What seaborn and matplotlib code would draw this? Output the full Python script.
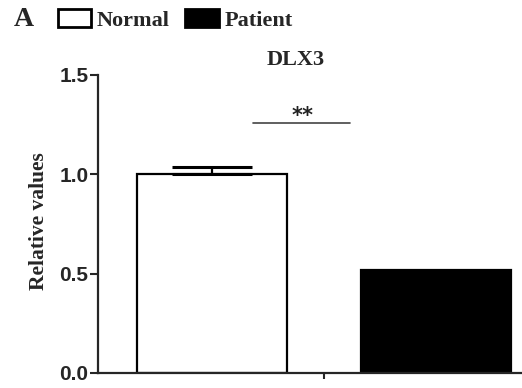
import pandas as pd
import matplotlib
matplotlib.use("Agg")
import matplotlib.pyplot as plt
from matplotlib.patches import Patch
import seaborn as sns

# values
groups = ["Normal", "Patient"]
values = [1.00, 0.52]
errors = [0.037, 0.0]
bar_colors = ["white", "black"]
yticks = [0.0, 0.5, 1.0, 1.5]
gene = "DLX3"
sig_label = "**"

df = pd.DataFrame({"group": groups, "value": values})

sns.set_style("ticks")
plt.rcParams["font.family"] = ["Liberation Serif", "DejaVu Serif"]

fig = plt.figure(figsize=(5.22, 3.88), dpi=100)
ax = fig.add_axes([98 / 522, 15 / 388, 424 / 522, 298 / 388])

sns.barplot(data=df, x="group", y="value", hue="group", palette=bar_colors,
            edgecolor="black", linewidth=1.6, width=0.67, legend=False, ax=ax)

# error bar only upward (the lower half is hidden in the bar)
ax.errorbar(x=[0], y=[values[0]], yerr=[[0], [errors[0]]], fmt="none",
            ecolor="black", elinewidth=1.6, capsize=28.5, capthick=2.2)

ax.set_ylim(0, 1.5)
ax.set_xlim(-0.51, 1.385)
ax.set_yticks(yticks)
ax.set_yticklabels([f"{t:.1f}" for t in yticks],
                   fontfamily="Liberation Sans", fontweight="bold", fontsize=15)
ax.set_xticks([0.5])
ax.set_xticklabels([""])
ax.tick_params(axis="y", length=6, width=1.5, pad=1)
ax.tick_params(axis="x", length=4, width=1.5)
ax.set_xlabel("")
ax.set_ylabel("Relative values", fontsize=15.5, fontweight="bold")
ax.yaxis.set_label_coords(-0.115, 0.51)

sns.despine(ax=ax)
for s in ["left", "bottom"]:
    ax.spines[s].set_linewidth(1.6)

# title and significance mark
ax.text(0.375, 1.575, gene, ha="center", va="center", fontsize=16,
        fontweight="bold", clip_on=False)
ax.plot([0.183, 0.616], [1.258, 1.258], color="#444444", lw=1.2)
ax.text(0.405, 1.295, sig_label, ha="center", va="center", fontsize=15,
        fontfamily="DejaVu Sans", fontweight="bold", color="#222222")

# panel letter and legend
fig.text(24 / 522, 1 - 19 / 388, "A", ha="center", va="center",
         fontsize=20, fontweight="bold")
handles = [Patch(facecolor=c, edgecolor="black", linewidth=2, joinstyle="round")
           for c in bar_colors]
fig.legend(handles, groups, loc="upper left", bbox_to_anchor=(47 / 522, 1 + 2 / 388),
           ncol=2, frameon=False, borderpad=0, handlelength=1.5, handleheight=0.85,
           handletextpad=0.25, columnspacing=0.7,
           prop={"family": "Liberation Serif", "weight": "bold", "size": 16})

fig.savefig("out.png", dpi=100)
